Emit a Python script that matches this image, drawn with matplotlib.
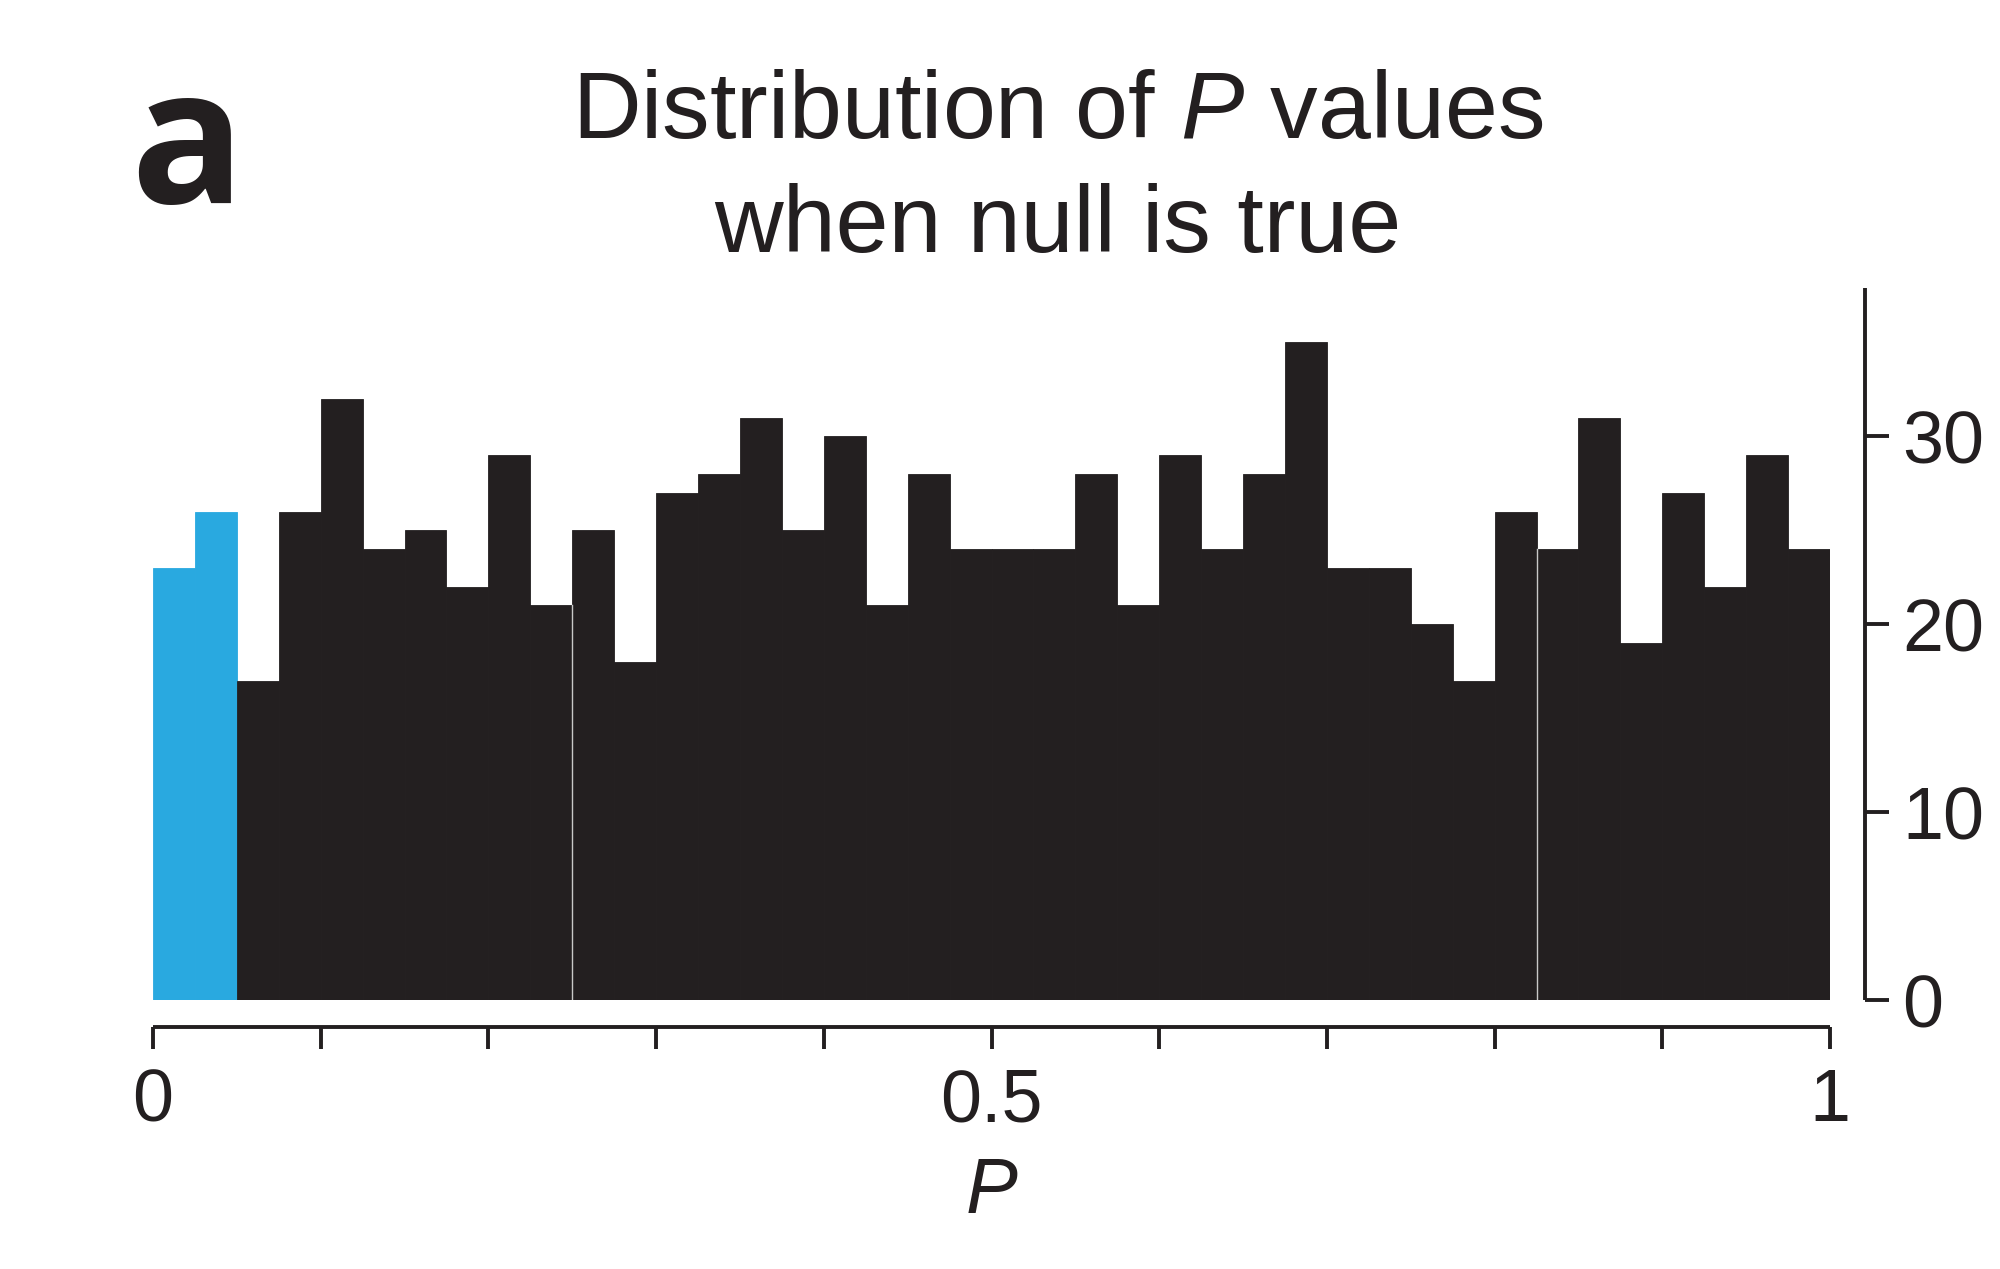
import matplotlib
matplotlib.use("Agg")
import matplotlib.pyplot as plt
import numpy as np

# ---- data ----
bin_width = 0.025
bin_left = [i * bin_width for i in range(40)]
counts = [23, 26, 17, 26, 32, 24, 25, 22, 29, 21,
          25, 18, 27, 28, 31, 25, 30, 21, 28, 24,
          24, 24, 28, 21, 29, 24, 28, 35, 23, 23,
          20, 17, 26, 24, 31, 19, 27, 22, 29, 24]
significant_bins = 2          # bins with P < 0.05 (highlighted)
x_major = [0, 0.5, 1]
x_major_labels = ["0", "0.5", "1"]
x_minor = [0.1, 0.2, 0.3, 0.4, 0.6, 0.7, 0.8, 0.9]
y_ticks = [0, 10, 20, 30]
y_tick_labels = ["0", "10", "20", "30"]
seam_bins = [10, 33]          # bin indices where faint white seams appear in the original

BLACK = "#231f20"
BLUE = "#29a9e0"

plt.rcParams['font.family'] = ['Liberation Sans', 'DejaVu Sans']
plt.rcParams['mathtext.fontset'] = 'custom'
plt.rcParams['mathtext.rm'] = 'Liberation Sans'
plt.rcParams['mathtext.it'] = 'Liberation Sans:italic'

fig = plt.figure(figsize=(20, 12.69), dpi=100)
ax = fig.add_axes([153 / 2000, (1269 - 1000) / 1269, 1677 / 2000, (1000 - 288) / 1269])

colors = [BLUE if i < significant_bins else BLACK for i in range(len(counts))]
ax.bar(bin_left, counts, width=bin_width, align='edge', color=colors,
       edgecolor=colors, linewidth=0.6)
for b in seam_bins:
    s = bin_left[b]
    ax.plot([s, s], [0, min(counts[b - 1], counts[b])], color='#c8c8c8', lw=1.0)

ax.set_xlim(0, 1)
ax.set_ylim(0, 37.9)

for side in ['top', 'left']:
    ax.spines[side].set_visible(False)
ax.spines['bottom'].set_position(('outward', 19.5))
ax.spines['right'].set_position(('outward', 25))
ax.spines['bottom'].set_bounds(0, 1)
ax.spines['right'].set_bounds(0, 37.9)
for side in ['bottom', 'right']:
    ax.spines[side].set_linewidth(2.8)
    ax.spines[side].set_color(BLACK)
    ax.spines[side].set_capstyle('butt')

ax.yaxis.tick_right()
ax.set_yticks(y_ticks)
ax.set_yticklabels(y_tick_labels)
ax.set_xticks(x_major)
ax.set_xticklabels(x_major_labels)
ax.set_xticks(x_minor, minor=True)

ax.tick_params(axis='y', which='both', direction='out', length=17, width=2.8,
               pad=10, labelsize=53, colors=BLACK, left=False, right=True)
ax.tick_params(axis='x', which='both', direction='out', length=16, width=2.8,
               pad=13, labelsize=53, colors=BLACK)

ax.set_xlabel('$P$', fontsize=56, color=BLACK, labelpad=14)

fig.text(1058 / 2000, (1269 - 138) / 1269, 'Distribution of $P$ values',
         ha='center', va='baseline', fontsize=68.5, color=BLACK)
fig.text(1058 / 2000, (1269 - 252) / 1269, 'when null is true',
         ha='center', va='baseline', fontsize=68.5, color=BLACK)
fig.text(130 / 2000, (1269 - 203) / 1269, 'a', ha='left', va='baseline',
         fontsize=136, fontweight='bold', color=BLACK,
         family=['Open Sans', 'Liberation Sans'])

fig.savefig('out.png', dpi=100, facecolor='white')
